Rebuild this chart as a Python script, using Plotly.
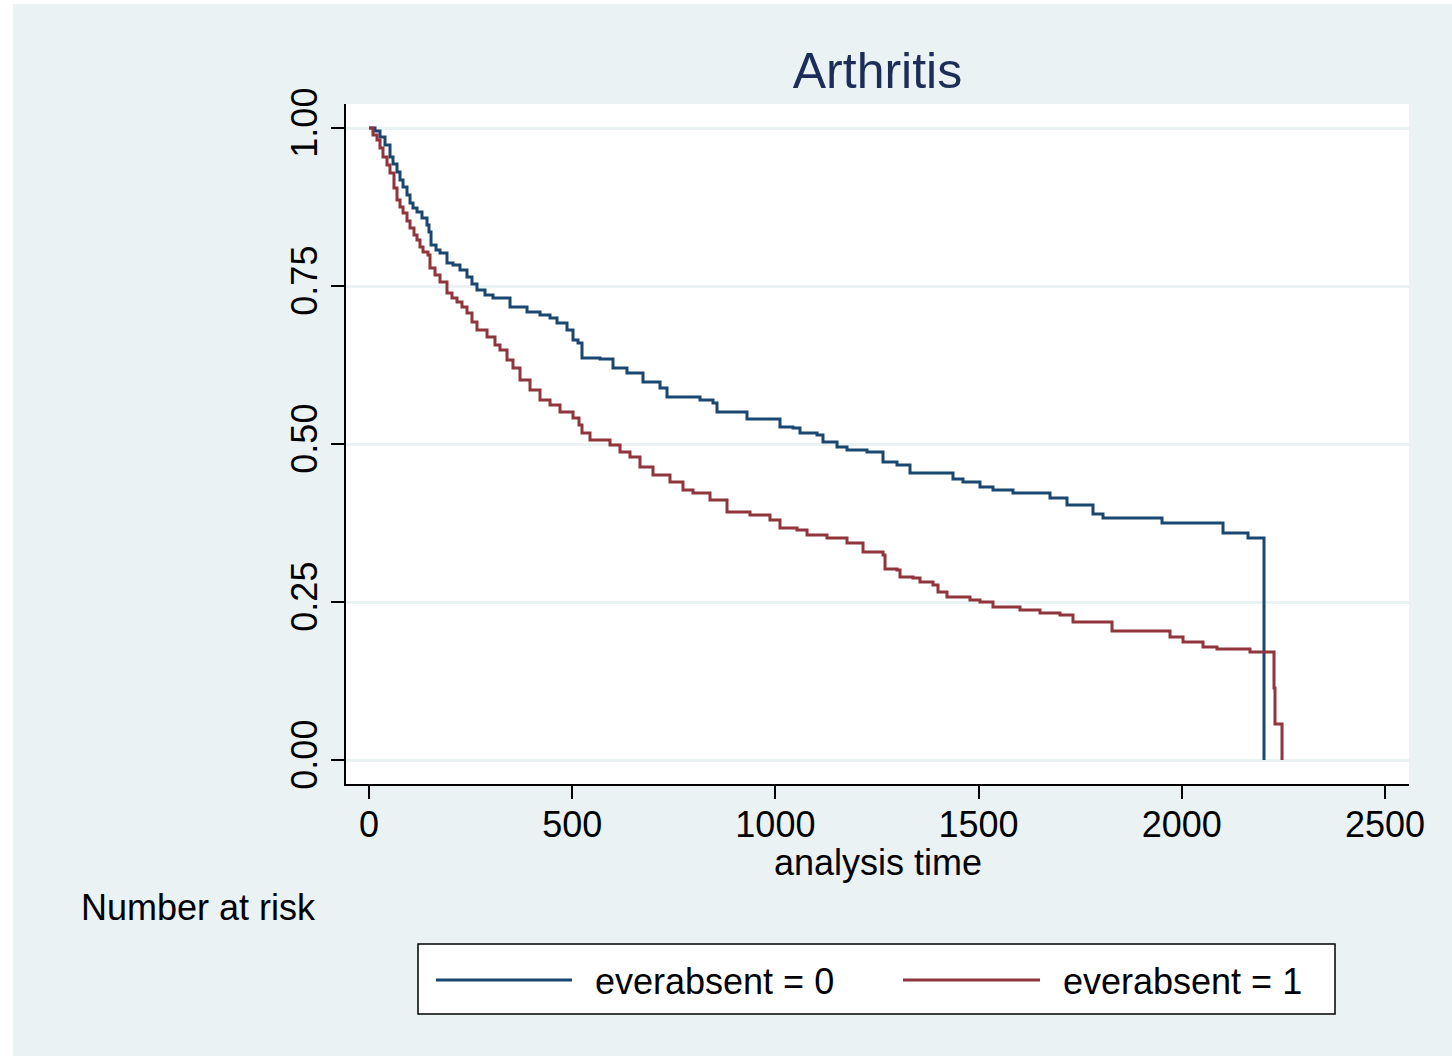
import plotly.graph_objects as go

# Kaplan-Meier survival estimates, Arthritis cohort, by everabsent group
# (time of each step, survival after the step)
time_0 = [0, 14.8, 27.1, 39.4, 51.7, 59.1, 68.9, 76.3, 83.7, 93.5, 100.9, 108.3, 118.1,
          130.4, 142.7, 147.6, 152.6, 164.9, 174.7, 191.9, 206.7, 223.9, 241.1, 253.4,
          265.7, 285.4, 305.1, 347.0, 388.8, 420.8, 445.4, 462.6, 487.2, 502.0, 514.3,
          524.1, 568.4, 600.4, 634.8, 674.2, 716.1, 733.3, 814.5, 846.5, 856.3, 930.1,
          1011.3, 1043.3, 1060.5, 1102.4, 1117.1, 1151.6, 1176.2, 1225.4, 1264.8, 1299.2,
          1331.2, 1437.0, 1461.6, 1503.4, 1535.4, 1584.6, 1675.7, 1717.5, 1781.5, 1806.1,
          1951.3, 2101.4, 2162.9, 2202.3]
surv_0 = [1.0, 0.9953, 0.9858, 0.9731, 0.9541, 0.9430, 0.9304, 0.9177, 0.9066, 0.8940,
          0.8813, 0.8734, 0.8671, 0.8576, 0.8465, 0.8354, 0.8149, 0.8070, 0.8022, 0.7864,
          0.7832, 0.7753, 0.7642, 0.7532, 0.7437, 0.7358, 0.7310, 0.7168, 0.7089, 0.7041,
          0.6994, 0.6915, 0.6804, 0.6646, 0.6598, 0.6361, 0.6345, 0.6203, 0.6123, 0.5981,
          0.5886, 0.5744, 0.5696, 0.5649, 0.5506, 0.5396, 0.5269, 0.5253, 0.5174, 0.5142,
          0.5032, 0.4953, 0.4905, 0.4873, 0.4715, 0.4668, 0.4541, 0.4446, 0.4399, 0.4320,
          0.4272, 0.4225, 0.4146, 0.4035, 0.3892, 0.3829, 0.3750, 0.3592, 0.3513, 0.0]

time_1 = [0, 9.8, 19.7, 27.1, 34.4, 44.3, 51.7, 61.5, 68.9, 76.3, 83.7, 93.5, 100.9,
          110.7, 118.1, 125.5, 132.9, 145.2, 150.1, 162.4, 174.7, 191.9, 204.2, 216.5,
          228.8, 241.1, 253.4, 265.7, 290.4, 310.0, 322.3, 339.6, 354.3, 371.6, 396.2,
          420.8, 445.4, 470.0, 502.0, 516.7, 524.1, 543.8, 593.0, 617.6, 642.2, 666.8,
          698.8, 740.6, 772.6, 797.2, 839.1, 880.9, 937.5, 986.7, 1011.3, 1053.1, 1077.8,
          1127.0, 1176.2, 1215.6, 1264.8, 1269.7, 1299.2, 1306.6, 1338.6, 1355.8, 1387.8,
          1400.1, 1422.2, 1478.8, 1503.4, 1535.4, 1601.9, 1651.1, 1700.3, 1732.3, 1828.3,
          1971.0, 2003.0, 2052.2, 2086.6, 2167.8, 2226.9, 2229.3, 2246.6]
surv_1 = [1.0, 0.9889, 0.9810, 0.9684, 0.9541, 0.9415, 0.9288, 0.9051, 0.8861, 0.8750,
          0.8655, 0.8528, 0.8418, 0.8307, 0.8228, 0.8117, 0.8038, 0.7991, 0.7785, 0.7674,
          0.7563, 0.7389, 0.7310, 0.7247, 0.7168, 0.7073, 0.6930, 0.6804, 0.6693, 0.6566,
          0.6487, 0.6329, 0.6203, 0.6013, 0.5854, 0.5696, 0.5617, 0.5506, 0.5411, 0.5301,
          0.5174, 0.5063, 0.4984, 0.4873, 0.4794, 0.4636, 0.4509, 0.4399, 0.4272, 0.4225,
          0.4114, 0.3924, 0.3877, 0.3797, 0.3671, 0.3639, 0.3560, 0.3513, 0.3434, 0.3291,
          0.3244, 0.3022, 0.3006, 0.2896, 0.2880, 0.2816, 0.2769, 0.2658, 0.2579, 0.2532,
          0.2500, 0.2421, 0.2373, 0.2326, 0.2294, 0.2184, 0.2041, 0.1946, 0.1867, 0.1788,
          0.1756, 0.1709, 0.1139, 0.0570, 0.0]

series_names = ["everabsent = 0", "everabsent = 1"]
series_colors = ["#1a476f", "#90353b"]
x_ticks = [0, 500, 1000, 1500, 2000, 2500]
y_ticks = [0.0, 0.25, 0.50, 0.75, 1.0]
y_tick_labels = ["0.00", "0.25", "0.50", "0.75", "1.00"]

W, H = 1452, 1059
ML, MR, MT, MB = 346, 43, 104, 275
PW, PH = W - ML - MR, H - MT - MB
BG = "#eaf2f3"
FONT = "Liberation Sans, Arial, Helvetica, sans-serif"
LW = 3


def px(x):
    return (x - ML) / PW


def py(y):
    return (H - MB - y) / PH


fig = go.Figure()
for t, s, name, col in zip([time_0, time_1], [surv_0, surv_1], series_names, series_colors):
    fig.add_trace(go.Scatter(x=t, y=s, mode="lines", line=dict(color=col, width=LW, shape="hv"),
                             name=name, showlegend=False))

shapes = [
    # white frame around the graph region
    dict(type="rect", xref="paper", yref="paper", x0=px(0), x1=px(13), y0=py(H), y1=py(0),
         fillcolor="white", line=dict(width=0), layer="below"),
    dict(type="rect", xref="paper", yref="paper", x0=px(0), x1=px(W), y0=py(4), y1=py(0),
         fillcolor="white", line=dict(width=0), layer="below"),
    dict(type="rect", xref="paper", yref="paper", x0=px(0), x1=px(W), y0=py(H), y1=py(1056),
         fillcolor="white", line=dict(width=0), layer="below"),
    # legend box
    dict(type="rect", xref="paper", yref="paper", x0=px(418), x1=px(1335), y0=py(1014), y1=py(944),
         fillcolor="white", line=dict(color="black", width=1.5)),
    dict(type="line", xref="paper", yref="paper", x0=px(436), x1=px(572), y0=py(980), y1=py(980),
         line=dict(color=series_colors[0], width=LW)),
    dict(type="line", xref="paper", yref="paper", x0=px(903), x1=px(1040), y0=py(980), y1=py(980),
         line=dict(color=series_colors[1], width=LW)),
]

annotations = [
    dict(text="analysis time", xref="paper", yref="paper", x=0.5, y=py(862), showarrow=False,
         xanchor="center", yanchor="middle", font=dict(size=36, color="black", family=FONT)),
    dict(text="Number at risk", xref="paper", yref="paper", x=px(79), y=py(907), showarrow=False,
         xanchor="left", yanchor="middle", font=dict(size=36, color="black", family=FONT)),
    dict(text=series_names[0], xref="paper", yref="paper", x=px(593), y=py(981), showarrow=False,
         xanchor="left", yanchor="middle", font=dict(size=36, color="black", family=FONT)),
    dict(text=series_names[1], xref="paper", yref="paper", x=px(1061), y=py(981), showarrow=False,
         xanchor="left", yanchor="middle", font=dict(size=36, color="black", family=FONT)),
]

fig.update_layout(
    width=W, height=H,
    margin=dict(l=ML, r=MR, t=MT, b=MB, pad=0),
    paper_bgcolor=BG, plot_bgcolor="white",
    font=dict(family=FONT, color="black"),
    title=dict(text="Arthritis", x=0.5, xref="paper", xanchor="center",
               y=1 - 70 / H, yref="container", yanchor="middle",
               font=dict(size=50, color="#1c2d5a", family=FONT)),
    shapes=shapes, annotations=annotations,
    xaxis=dict(range=[(ML - 369) / 0.4064, (W - MR - 369) / 0.4064],
               tickvals=x_ticks, ticktext=[str(v) for v in x_ticks],
               showgrid=False, zeroline=False, showline=True, linecolor="black", linewidth=1.5,
               ticks="outside", ticklen=13, tickwidth=1.5, tickcolor="black",
               ticklabelstandoff=-5,
               tickfont=dict(size=36, color="black", family=FONT)),
    yaxis=dict(range=[-24 / 632, 1 + 24 / 632],
               tickvals=y_ticks, ticktext=y_tick_labels, tickangle=-90,
               showgrid=True, gridcolor=BG, gridwidth=2.5, zeroline=False,
               showline=True, linecolor="black", linewidth=1.5,
               ticks="outside", ticklen=13, tickwidth=1.5, tickcolor="black",
               tickfont=dict(size=36, color="black", family=FONT)),
)

fig.write_html("out.html")
